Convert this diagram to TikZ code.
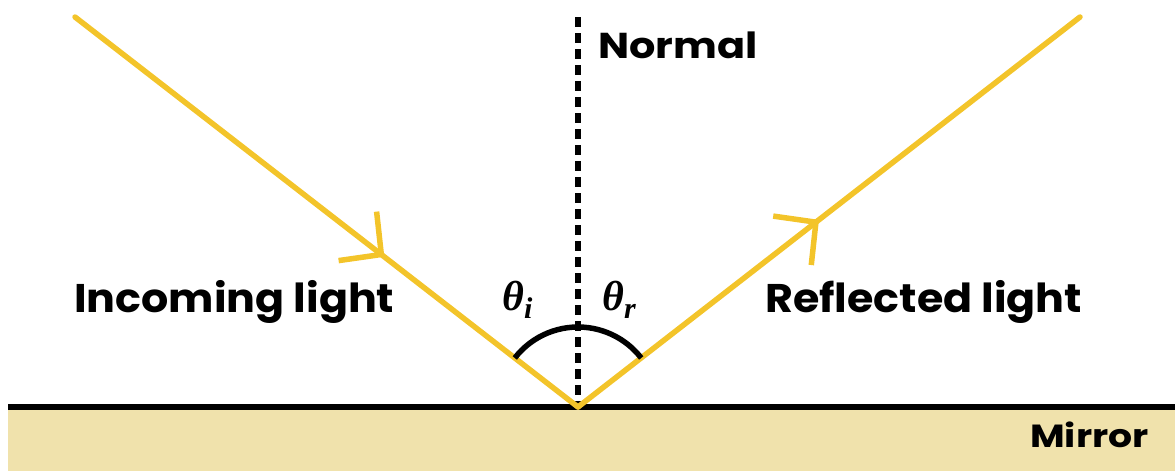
\documentclass[tikz,border=0pt]{standalone}
\usepackage{fontspec}
\setmainfont{Poppins}
\newfontfamily\thetafont{Liberation Serif}
\usetikzlibrary{arrows.meta,decorations.markings}
\definecolor{raycol}{RGB}{243,196,42}
\definecolor{mirrorfill}{RGB}{240,226,172}
\tikzset{
  lightray/.style={draw=raycol,line width=5.5pt,line cap=round},
  raybarb/.tip={Straight Barb[length=30pt,width=62pt,line width=5.5pt]},
  lbl/.style={inner sep=0pt,anchor=base west},
  angl/.style={font=\thetafont\bfseries\itshape\fontsize{42}{44}\selectfont,inner sep=0pt,anchor=base west},
}
\newcommand{\thsub}[1]{\raisebox{-8pt}{\fontsize{30}{30}\selectfont #1}}
\begin{document}
\begin{tikzpicture}[x=1pt,y=-1pt]
\useasboundingbox (0,0) rectangle (1175,471);
% mirror
\fill[mirrorfill] (8,407) rectangle (1175,471);
\coordinate (ML) at (8,407);
\coordinate (MR) at (1175,407);
\draw[line width=5.5pt] (ML) -- (MR);
% points
\coordinate (A) at (75,17);
\coordinate (O) at (578,407);
\coordinate (B) at (1080,17);
\coordinate (N) at (578,17);
% normal
\draw[line width=5.5pt,dash pattern=on 10pt off 6pt] (N) -- (O);
% rays
\draw[lightray,postaction={decorate},decoration={markings,mark=at position 0.615 with {\arrow[raycol]{raybarb}}}] (A) -- (O);
\draw[lightray,postaction={decorate},decoration={markings,mark=at position 0.48 with {\arrow[raycol]{raybarb}}}] (O) -- (B);
% angle arc
\draw[line width=5.5pt] (O) ++(217.8:80) arc[start angle=217.8,end angle=322.2,radius=80];
% labels
\node[lbl,font=\fontsize{36}{40}\selectfont\bfseries,xscale=1.15] (normal) at (598,58) {Normal};
\node[lbl,font=\fontsize{40}{44}\selectfont\bfseries,xscale=1.07] (incoming) at (74,312) {Incoming light};
\node[lbl,font=\fontsize{40}{44}\selectfont\bfseries,xscale=1.07] (reflected) at (765,312) {Reflected light};
\node[lbl,font=\fontsize{32}{36}\selectfont\bfseries,xscale=1.18] (mirror) at (1030,447) {Mirror};
\node[angl] (ti) at (502,310) {θ\thsub{i}};
\node[angl] (tr) at (602,310) {θ\thsub{r}};
\end{tikzpicture}
\end{document}
